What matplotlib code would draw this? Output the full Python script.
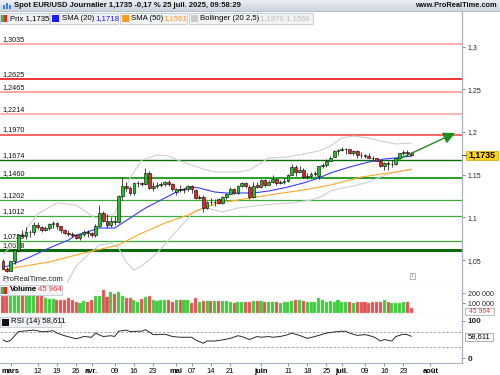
import numpy as np
import matplotlib.pyplot as plt
from matplotlib.patches import Rectangle
from matplotlib.colors import LinearSegmentedColormap

plt.rcParams['font.family'] = ['Liberation Sans', 'DejaVu Sans']

W, H = 500, 375

# daily candles, index 0 = 27 feb 2025 ... 106 = 25 juil 2025
opens = [1.0490, 1.0400, 1.0375, 1.0485, 1.0620, 1.0790, 1.0785, 1.0830, 1.0835, 1.0915,
         1.0890, 1.0855, 1.0880, 1.0925, 1.0940, 1.0900, 1.0850, 1.0815, 1.0800, 1.0795,
         1.0755, 1.0800, 1.0830, 1.0815, 1.0790, 1.0905, 1.1050, 1.0960, 1.0910, 1.0960,
         1.0945, 1.1250, 1.1370, 1.1350, 1.1285, 1.1400, 1.1400, 1.1390, 1.1515, 1.1345,
         1.1365, 1.1380, 1.1390, 1.1415, 1.1395, 1.1300, 1.1335, 1.1320, 1.1330, 1.1370,
         1.1320, 1.1230, 1.1235, 1.1110, 1.1180, 1.1175, 1.1220, 1.1170, 1.1240, 1.1280,
         1.1335, 1.1290, 1.1370, 1.1400, 1.1360, 1.1240, 1.1380, 1.1355, 1.1440, 1.1385,
         1.1420, 1.1445, 1.1400, 1.1415, 1.1430, 1.1500, 1.1590, 1.1535, 1.1560, 1.1475,
         1.1480, 1.1510, 1.1480, 1.1600, 1.1610, 1.1665, 1.1710, 1.1775, 1.1785, 1.1800,
         1.1800, 1.1760, 1.1780, 1.1735, 1.1725, 1.1720, 1.1700, 1.1690, 1.1665, 1.1600,
         1.1640, 1.1625, 1.1625, 1.1690, 1.1750, 1.1770, 1.1760]
highs = [1.0515, 1.0420, 1.0490, 1.0630, 1.0810, 1.0855, 1.0890, 1.0850, 1.0945, 1.0950,
         1.0905, 1.0905, 1.0935, 1.0955, 1.0950, 1.0905, 1.0860, 1.0855, 1.0835, 1.0800,
         1.0805, 1.0855, 1.0855, 1.0830, 1.0925, 1.1145, 1.1075, 1.1040, 1.1010, 1.1020,
         1.1260, 1.1475, 1.1420, 1.1365, 1.1410, 1.1425, 1.1415, 1.1575, 1.1545, 1.1410,
         1.1410, 1.1420, 1.1430, 1.1440, 1.1405, 1.1345, 1.1380, 1.1350, 1.1385, 1.1380,
         1.1330, 1.1265, 1.1265, 1.1195, 1.1225, 1.1210, 1.1230, 1.1250, 1.1290, 1.1360,
         1.1350, 1.1380, 1.1420, 1.1420, 1.1380, 1.1420, 1.1420, 1.1455, 1.1450, 1.1435,
         1.1495, 1.1455, 1.1440, 1.1465, 1.1505, 1.1630, 1.1615, 1.1600, 1.1580, 1.1525,
         1.1530, 1.1540, 1.1605, 1.1640, 1.1680, 1.1720, 1.1785, 1.1800, 1.1830, 1.1815,
         1.1805, 1.1795, 1.1790, 1.1765, 1.1745, 1.1750, 1.1720, 1.1700, 1.1675, 1.1650,
         1.1660, 1.1670, 1.1695, 1.1760, 1.1785, 1.1790, 1.1770]
lows = [1.0395, 1.0360, 1.0370, 1.0460, 1.0600, 1.0765, 1.0750, 1.0770, 1.0795, 1.0870,
        1.0830, 1.0840, 1.0850, 1.0875, 1.0860, 1.0820, 1.0800, 1.0780, 1.0775, 1.0745,
        1.0735, 1.0780, 1.0770, 1.0775, 1.0775, 1.0890, 1.0945, 1.0880, 1.0890, 1.0915,
        1.0930, 1.1200, 1.1315, 1.1265, 1.1265, 1.1360, 1.1365, 1.1380, 1.1330, 1.1310,
        1.1340, 1.1355, 1.1365, 1.1370, 1.1310, 1.1265, 1.1300, 1.1290, 1.1310, 1.1290,
        1.1220, 1.1210, 1.1065, 1.1095, 1.1145, 1.1130, 1.1160, 1.1160, 1.1220, 1.1270,
        1.1280, 1.1280, 1.1355, 1.1350, 1.1210, 1.1230, 1.1340, 1.1350, 1.1355, 1.1375,
        1.1400, 1.1375, 1.1390, 1.1395, 1.1420, 1.1495, 1.1490, 1.1530, 1.1465, 1.1450,
        1.1460, 1.1480, 1.1450, 1.1580, 1.1590, 1.1655, 1.1710, 1.1725, 1.1775, 1.1740,
        1.1745, 1.1735, 1.1700, 1.1700, 1.1695, 1.1690, 1.1655, 1.1655, 1.1590, 1.1560,
        1.1555, 1.1590, 1.1615, 1.1680, 1.1725, 1.1720, 1.1720]
closes = [1.0400, 1.0375, 1.0485, 1.0620, 1.0790, 1.0785, 1.0830, 1.0835, 1.0915, 1.0890,
          1.0855, 1.0880, 1.0925, 1.0940, 1.0900, 1.0850, 1.0815, 1.0800, 1.0795, 1.0755,
          1.0800, 1.0830, 1.0815, 1.0790, 1.0905, 1.1050, 1.0960, 1.0910, 1.0960, 1.0945,
          1.1250, 1.1370, 1.1350, 1.1285, 1.1400, 1.1400, 1.1390, 1.1515, 1.1345, 1.1365,
          1.1380, 1.1395, 1.1415, 1.1395, 1.1335, 1.1335, 1.1320, 1.1330, 1.1370, 1.1335,
          1.1230, 1.1240, 1.1110, 1.1180, 1.1175, 1.1185, 1.1170, 1.1240, 1.1280, 1.1335,
          1.1290, 1.1370, 1.1400, 1.1370, 1.1240, 1.1370, 1.1355, 1.1440, 1.1375, 1.1420,
          1.1445, 1.1400, 1.1415, 1.1430, 1.1500, 1.1590, 1.1535, 1.1560, 1.1475, 1.1480,
          1.1510, 1.1520, 1.1600, 1.1610, 1.1665, 1.1700, 1.1775, 1.1785, 1.1800, 1.1800,
          1.1760, 1.1780, 1.1735, 1.1725, 1.1720, 1.1700, 1.1690, 1.1665, 1.1600, 1.1640,
          1.1625, 1.1625, 1.1690, 1.1750, 1.1770, 1.1760, 1.1735]

# volume in thousands
vol_k = [175, 175, 175, 202, 218, 202, 195, 195, 185, 175,
         175, 152, 142, 142, 135, 128, 128, 152, 128, 108,
         102, 125, 115, 128, 168, 168, 228, 162, 215, 195,
         215, 168, 152, 148, 135, 112, 142, 162, 168, 128,
         125, 128, 128, 128, 115, 128, 128, 128, 128, 102,
         152, 108, 118, 118, 118, 125, 125, 125, 118, 115,
         102, 112, 112, 112, 115, 118, 125, 125, 112, 115,
         115, 108, 102, 112, 112, 125, 135, 128, 125, 112,
         108, 108, 148, 135, 115, 122, 112, 132, 115, 112,
         108, 102, 115, 112, 108, 98, 112, 115, 108, 135,
         108, 102, 102, 98, 115, 115, 46]

# indicator lines, read as vertices (day index, value)
sma20_idx = [0, 2, 7, 12, 17, 19, 21, 25, 29, 33, 37, 42, 46, 49, 51, 55, 58, 65, 69, 74,
             78, 82, 85, 90, 95, 99, 102, 106]
sma20_val = [1.0415, 1.0443, 1.0536, 1.0642, 1.0735, 1.0794, 1.0817, 1.0876, 1.0876, 1.0993,
             1.1110, 1.1227, 1.1321, 1.1356, 1.1344, 1.1297, 1.1286, 1.1286, 1.1309, 1.1356,
             1.1403, 1.1461, 1.1520, 1.1590, 1.1649, 1.1684, 1.1696, 1.1718]
sma50_idx = [0, 4, 12, 21, 30, 35, 42, 48, 52, 56, 61, 69, 78, 85, 93, 102, 106]
sma50_val = [1.0384, 1.0419, 1.0478, 1.0583, 1.0677, 1.0794, 1.0934, 1.1028, 1.1110, 1.1169,
             1.1204, 1.1262, 1.1321, 1.1379, 1.1473, 1.1532, 1.1561]
bb_up_idx = [0, 4, 9, 14, 19, 24, 29, 31, 33, 36, 40, 43, 46, 52, 55, 61, 64, 67, 69, 74,
             78, 82, 85, 88, 91, 95, 98, 102, 106]
bb_up_val = [1.0571, 1.0735, 1.1040, 1.1170, 1.1145, 1.0993, 1.1040, 1.1262, 1.1461, 1.1672,
             1.1731, 1.1719, 1.1660, 1.1567, 1.1532, 1.1532, 1.1555, 1.1637, 1.1696, 1.1707,
             1.1742, 1.1778, 1.1836, 1.1930, 1.1953, 1.1930, 1.1895, 1.1860, 1.1870]
bb_lo_idx = [0, 2, 5, 10, 15, 19, 22, 25, 28, 30, 32, 34, 36, 40, 43, 46, 50, 53, 57, 61,
             65, 70, 75, 80, 83, 85, 88, 91, 95, 98, 101, 106]
bb_lo_val = [1.0267, 1.0210, 1.0100, 1.0020, 1.0100, 1.0431, 1.0560, 1.0677, 1.0700, 1.0642,
             1.0478, 1.0384, 1.0431, 1.0583, 1.0735, 1.0888, 1.1087, 1.1110, 1.1063, 1.1110,
             1.1133, 1.1157, 1.1169, 1.1204, 1.1251, 1.1309, 1.1344, 1.1368, 1.1415, 1.1473,
             1.1520, 1.1566]
rsi_idx = [0, 1, 2, 4, 5, 8, 10, 11, 13, 14, 16, 19, 21, 23, 24, 26, 28, 29, 30, 32,
           33, 35, 36, 37, 39, 40, 42, 44, 46, 49, 50, 52, 53, 55, 57, 59, 61, 62, 64, 66,
           67, 69, 70, 72, 74, 75, 77, 79, 81, 84, 86, 88, 89, 90, 92, 94, 96, 97, 98, 99,
           101, 102, 104, 105, 106]
rsi_val = [49, 44, 48, 71, 72, 75, 71, 71, 73.5, 67, 60, 52, 58, 56, 67, 58, 60, 58, 72, 75,
           71, 72, 72, 76, 63, 63, 64, 58, 56, 56, 49, 40, 46, 46, 49, 53, 60, 58, 50, 58,
           56, 58, 56, 58, 63, 67, 61, 53, 58, 67, 70, 72, 72, 67, 61, 63, 58, 53, 46, 50,
           46, 58, 64, 63, 58.6]

# support / resistance levels
levels = [1.3035, 1.2625, 1.2465, 1.2214, 1.1970, 1.1674, 1.1460, 1.1202, 1.1012, 1.0728, 1.0618]
level_labels = ['1,3035', '1,2625', '1,2465', '1,2214', '1,1970', '1,1674', '1,1460',
                '1,1202', '1,1012', '1,0728', '1,0618']
level_colors = ['#ff9a9a', '#ee1111', '#ff8c8c', '#ffa0a0', '#ff3b3b', '#0b6b0b', '#2ea02e',
                '#3aaa3a', '#3aaa3a', '#3aaa3a', '#0b6b0b']
level_lw = [1.1, 1.2, 1.1, 1.1, 1.1, 1.0, 1.5, 0.9, 0.9, 0.9, 2.2]

# trend arrow (day index, price)
arrow_x = [102.3, 117.4]
arrow_y = [1.1672, 1.1988]

xt_idx = [2, 9, 14, 19, 23, 29, 34, 39, 45, 49, 54, 59, 67, 74, 79, 84, 88, 94, 99, 104, 111]
xt_lab = ['mars', '12', '19', '26', 'avr.', '09', '16', '23', 'mai', '07', '14', '21',
          'juin', '11', '18', '25', 'juil.', '09', '16', '23', 'août']
months = {'mars', 'avr.', 'mai', 'juin', 'juil.', 'août'}

price_ticks = [1.05, 1.1, 1.15, 1.2, 1.25, 1.3]
price_tick_lab = ['1,05', '1,1', '1,15', '1,2', '1,25', '1,3']


def px_rect(x0, y0, x1, y1):
    return [x0 / W, 1 - y1 / H, (x1 - x0) / W, (y1 - y0) / H]


fig = plt.figure(figsize=(5, 3.75), dpi=100)
fig.patch.set_facecolor('white')

ax_p = fig.add_axes(px_rect(0, 11, 462, 283))
ax_v = fig.add_axes(px_rect(0, 283, 462, 315))
ax_r = fig.add_axes(px_rect(0, 315, 462, 363))

for ax in (ax_p, ax_v, ax_r):
    ax.set_xlim(-0.78, 119.2)
    ax.spines['top'].set_visible(False)
    ax.spines['left'].set_visible(False)
    ax.spines['right'].set_color('#a9b3bd')
    ax.spines['right'].set_linewidth(0.9)
    ax.spines['bottom'].set_color('#a9b3bd')
    ax.spines['bottom'].set_linewidth(0.8)
    ax.yaxis.tick_right()
    ax.tick_params(axis='y', direction='out', length=2.5, width=0.6, color='#707880',
                   labelsize=5, pad=1.5, labelcolor='#222222')
    ax.tick_params(axis='x', bottom=False, labelbottom=False)

# ---- price panel
ax_p.set_ylim(1.0232, 1.3417)
ax_p.set_yticks(price_ticks)
ax_p.set_yticklabels(price_tick_lab)

for lv, lab, col, lw in zip(levels, level_labels, level_colors, level_lw):
    ax_p.axhline(lv, color=col, lw=lw, zorder=1)
    ax_p.annotate(lab, xy=(0, lv), xycoords=ax_p.get_yaxis_transform(),
                  xytext=(1.5, 2.2), textcoords='offset points', fontsize=5.2,
                  va='baseline', color='#111111', zorder=2)

ax_p.plot(bb_up_idx, bb_up_val, color='#cfcfcf', lw=0.8, zorder=3)
ax_p.plot(bb_lo_idx, bb_lo_val, color='#cfcfcf', lw=0.8, zorder=3)
ax_p.plot(sma50_idx, sma50_val, color='#ffa726', lw=0.8, zorder=3)
ax_p.plot(sma20_idx, sma20_val, color='#3b3bff', lw=0.8, zorder=3)

o = np.array(opens)
c = np.array(closes)
x = np.arange(len(c))
up = c >= o
body_col = np.where(up, '#22c322', '#ee2020')
ax_p.vlines(x, lows, highs, color='black', lw=0.5, zorder=4)
ax_p.bar(x, np.maximum(np.abs(c - o), 0.0005), bottom=np.minimum(o, c), width=0.72,
         color=body_col, edgecolor='black', linewidth=0.4, zorder=5)

ax_p.annotate('', xy=(arrow_x[1], arrow_y[1]), xytext=(arrow_x[0], arrow_y[0]),
              arrowprops=dict(arrowstyle='-|>,head_length=0.7,head_width=0.35',
                              color='#1e8c1e', lw=1.0, shrinkA=0, shrinkB=0,
                              mutation_scale=10), zorder=6)

# ---- volume panel
ax_v.set_ylim(-20, 300)
ax_v.bar(x, vol_k, width=0.8, color=np.where(up, '#3ccc3c', '#e05252'),
         edgecolor=np.where(up, '#8be08b', '#f0a0a0'), linewidth=0.3)
ax_v.set_yticks([100, 200])
ax_v.set_yticklabels(['100 000', '200 000'])
ax_v.tick_params(axis='y', labelsize=5.1)

# ---- RSI panel
ax_r.set_ylim(-12.5, 115.2)
ax_r.axhline(70, color='#9a9a9a', lw=0.6, ls=(0, (3, 2)))
ax_r.axhline(30, color='#9a9a9a', lw=0.6, ls=(0, (3, 2)))
ax_r.plot(rsi_idx, rsi_val, color='#2a2a2a', lw=0.7)
ax_r.set_yticks([0, 100])
ax_r.set_yticklabels(['0', '100'], fontweight='bold')
ax_r.tick_params(axis='y', labelsize=5.8)
ax_r.tick_params(axis='x', bottom=True, labelbottom=True, length=2, width=0.6,
                 color='#707880', labelsize=5.4, pad=1.5)
ax_r.set_xticks(xt_idx)
ax_r.set_xticklabels(xt_lab)
for t in ax_r.get_xticklabels():
    if t.get_text() in months:
        t.set_fontweight('bold')

# ---- overlay in pixel coordinates for header, legends and value boxes
ov = fig.add_axes([0, 0, 1, 1], zorder=10)
ov.set_xlim(0, W)
ov.set_ylim(H, 0)
ov.axis('off')
ov.patch.set_alpha(0)

grad = LinearSegmentedColormap.from_list('bar', ['#e9eef3', '#cdd5dd'])
ov.imshow(np.linspace(0, 1, 20).reshape(-1, 1), cmap=grad, aspect='auto',
          extent=(0, W, 11, 0), zorder=0)
ov.plot([0, W], [11, 11], color='#aab4be', lw=0.6)
for bx, bh in zip([2.5, 5.5, 8.5], [4, 6, 3.5]):
    ov.add_patch(Rectangle((bx, 8.5 - bh), 2, bh, color='#3c82d8', lw=0))
ov.text(14, 5.8, 'Spot EUR/USD Journalier 1,1735 -0,17 % 25 juil. 2025, 09:58:29',
        fontsize=5.5, fontweight='bold', va='center', color='#111111')
ov.text(497, 5.8, 'www.ProRealTime.com', fontsize=5.3, fontweight='bold', va='center',
        ha='right', color='#111111')


def box(x0, x1, y0, y1, fc='#f1f2f4', ec='#c3cad2'):
    ov.add_patch(Rectangle((x0, y0), x1 - x0, y1 - y0, fc=fc, ec=ec, lw=0.6))


def swatch(x0, y0, col, w=7, h=7):
    ov.add_patch(Rectangle((x0, y0), w, h, fc=col, ec='none'))


ty = 18.3
box(0, 49, 13, 23.5)
swatch(1, 15, '#22c322', 3, 7)
swatch(4, 15, '#ee2020', 3, 7)
ov.text(10, ty, 'Prix 1,1735', fontsize=5.6, va='center')
box(50, 118, 13, 23.5)
swatch(52, 15, '#1a1aff')
ov.text(62, ty, 'SMA (20)', fontsize=5.6, va='center')
ov.text(95, ty, '1,1718', fontsize=5.6, va='center', color='#1a1aff')
box(120, 187, 13, 23.5)
swatch(122, 15, '#ff9a1a')
ov.text(131, ty, 'SMA (50)', fontsize=5.6, va='center')
ov.text(163, ty, '1,1561', fontsize=5.6, va='center', color='#ff9a1a')
box(189, 313, 13, 23.5)
swatch(191, 15, '#cccccc')
ov.text(200, ty, 'Bollinger (20 2,5)', fontsize=5.6, va='center')
ov.text(260, ty, '1,1870 1,1566', fontsize=5.6, va='center', color='#bdbdbd')

ov.text(2, 281, 'ProRealTime.com', fontsize=5.5, color='#222222')

box(0, 62, 284.5, 294.5)
swatch(1, 286.5, '#22c322', 3, 7)
swatch(4, 286.5, '#ee2020', 3, 7)
ov.text(10, 289.7, 'Volume', fontsize=5.6, fontweight='bold', va='center')
ov.text(38, 289.7, '45 964', fontsize=5.6, va='center', color='#e04040')

box(0, 61, 316.5, 326.5)
swatch(2, 318.5, '#111111')
ov.text(11, 321.7, 'RSI (14) 58,611', fontsize=5.6, va='center')

# value boxes on the right scale
ov.plot([462, 465.5], [155, 155], color='#333333', lw=0.6)
ov.add_patch(Rectangle((465.5, 150.5), 32.5, 9, fc='#ffd21c', ec='#c9a400', lw=0.5))
ov.text(481.7, 155.2, '1,1735', fontsize=6.4, fontweight='bold', ha='center', va='center')
ov.add_patch(Rectangle((464.5, 307.5), 29.5, 7, fc='white', ec='#a0a0a0', lw=0.5))
ov.text(479.2, 311.2, '45 964', fontsize=4.9, ha='center', va='center', color='#e04040')
ov.add_patch(Rectangle((465, 332.5), 28, 8.5, fc='white', ec='#909090', lw=0.5))
ov.text(479, 336.9, '58,611', fontsize=5.5, ha='center', va='center')

ov.add_patch(Rectangle((409.5, 272.5), 5, 6, fc='white', ec='#999999', lw=0.5))
ov.text(412, 275.7, 'i', fontsize=4, ha='center', va='center', color='#666666')

fig.savefig('out.png', dpi=100)
